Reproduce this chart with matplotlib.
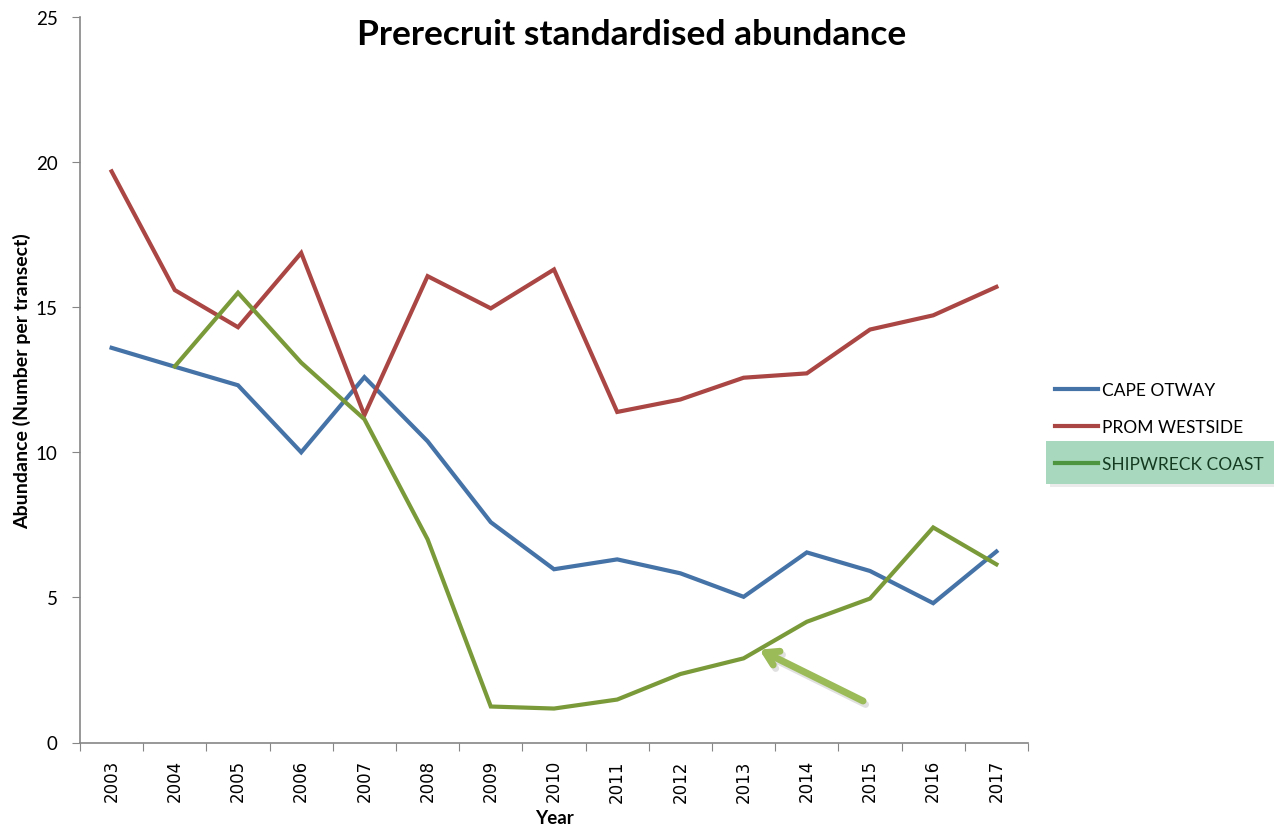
import numpy as np
import matplotlib
matplotlib.use("Agg")
import matplotlib.pyplot as plt
from matplotlib.lines import Line2D
from matplotlib.patches import Rectangle

years = [str(y) for y in range(2003, 2018)]
cape_otway = [13.6, 12.95, 12.31, 10.0, 12.59, 10.38, 7.59, 5.97, 6.31, 5.83, 5.02, 6.55, 5.91, 4.8, 6.58]
prom_westside = [19.68, 15.59, 14.31, 16.87, 11.28, 16.07, 14.96, 16.3, 11.39, 11.82, 12.57, 12.72, 14.23, 14.72, 15.7]
shipwreck = [np.nan, 12.96, 15.5, 13.09, 11.14, 7.0, 1.24, 1.17, 1.48, 2.36, 2.9, 4.16, 4.96, 7.41, 6.14]

series_names = ["CAPE OTWAY", "PROM WESTSIDE", "SHIPWRECK COAST"]
colors = ["#4572A7", "#AA4643", "#7A9A3A"]

# arrow pointing at shipwreck coast recovery (category index, value)
arrow_tail = (11.89, 1.43)
arrow_head = (10.25, 3.2)

plt.rcParams["font.family"] = ["Lato", "DejaVu Sans"]

fig = plt.figure(figsize=(12.74, 8.28), dpi=100)
ax = fig.add_axes([80 / 1274, 1 - 743.5 / 828, 948 / 1274, 725.5 / 828])

x = np.arange(len(years))
for vals, c in zip([cape_otway, prom_westside, shipwreck], colors):
    ax.plot(x, vals, color=c, lw=3, solid_joinstyle="miter", zorder=3)

# arrow with soft shadow
astyle = "->,head_length=0.9,head_width=0.55"
ax.annotate("", xy=(arrow_head[0] + 0.04, arrow_head[1] - 0.12), xytext=(arrow_tail[0] + 0.04, arrow_tail[1] - 0.12),
            arrowprops=dict(arrowstyle=astyle, color="#000000", alpha=0.12, lw=5, shrinkA=0, shrinkB=0), zorder=4)
ax.annotate("", xy=arrow_head, xytext=arrow_tail,
            arrowprops=dict(arrowstyle=astyle, color="#9BBB59", lw=5, shrinkA=0, shrinkB=0), zorder=5)

ax.set_xlim(-0.5, len(years) - 0.5)
ax.set_ylim(0, 25)
ax.set_yticks([0, 5, 10, 15, 20, 25])
ax.set_xticks(np.arange(-0.5, len(years), 1.0))
ax.set_xticklabels([])
ax.set_xticks(x, minor=True)
ax.set_xticklabels(years, minor=True, rotation=90, fontsize=12, family=["DejaVu Sans"])
ax.tick_params(axis="x", which="minor", length=0, pad=12)
ax.tick_params(axis="x", which="major", length=6, color="#868686", direction="out")
ax.tick_params(axis="y", length=6, color="#868686", direction="out", labelsize=13.5, pad=10)

for s in ["top", "right"]:
    ax.spines[s].set_visible(False)
for s in ["left", "bottom"]:
    ax.spines[s].set_color("#868686")
    ax.spines[s].set_linewidth(1.2)

ax.set_xlabel("Year", fontsize=13.5, fontweight="bold", va="center")
ax.xaxis.set_label_coords(0.5, -(819 - 743.5) / 725.5)
ax.set_ylabel("Abundance (Number per transect)", fontsize=14, fontweight="bold", va="center")
ax.yaxis.set_label_coords(-(80 - 22) / 948, 0.5)

fig.text(632 / 1274, 1 - 35 / 828, "Prerecruit standardised abundance", ha="center", va="center",
         fontsize=25.5, fontweight="bold")

# highlight box behind the shipwreck coast legend entry
fig.patches.append(Rectangle((1050 / 1274, 1 - 488 / 828), 228 / 1274, 43 / 828, transform=fig.transFigure,
                             facecolor="#000000", alpha=0.08, edgecolor="none", zorder=1))
fig.patches.append(Rectangle((1046 / 1274, 1 - 485 / 828), 228 / 1274, 43 / 828, transform=fig.transFigure,
                             facecolor="#A8D8BD", edgecolor="none", zorder=2))

handles = [Line2D([], [], color="#4572A7", lw=3),
           Line2D([], [], color="#AA4643", lw=3),
           Line2D([], [], color="#4E9540", lw=3)]
leg = fig.legend(handles, series_names, loc="upper left", bbox_to_anchor=(1048 / 1274, 1 - 376 / 828),
                 frameon=False, fontsize=12.5, handlelength=2.5, handletextpad=0.2, labelspacing=1.2,
                 borderaxespad=0.0)
leg.set_zorder(5)
leg.get_texts()[2].set_color("#143b22")

fig.savefig("out.png", dpi=100)
